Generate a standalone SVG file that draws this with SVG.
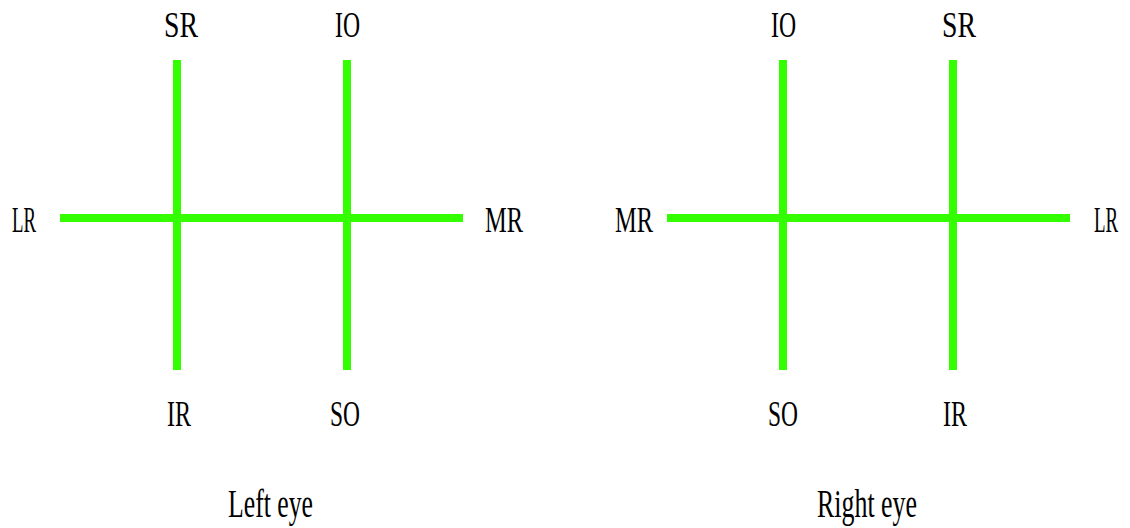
<svg xmlns="http://www.w3.org/2000/svg" width="1130" height="528" viewBox="0 0 1130 528">
<style>
.ln{stroke:#33ff00;stroke-width:8;fill:none}
text{font-family:"Liberation Serif","DejaVu Serif",serif;font-size:35px;fill:#000}
.t{font-size:39px}
</style>
<rect width="1130" height="528" fill="#fff"/>
<g id="connectors">
<line class="ln" x1="60" y1="218" x2="463" y2="218"/>
<line class="ln" x1="177" y1="60" x2="177" y2="370"/>
<line class="ln" x1="347" y1="60" x2="347" y2="370"/>
<line class="ln" x1="667" y1="218" x2="1070" y2="218"/>
<line class="ln" x1="783" y1="60" x2="783" y2="370"/>
<line class="ln" x1="953" y1="60" x2="953" y2="370"/>
</g>
<g id="left-eye">
<text x="164" y="37" textLength="34" lengthAdjust="spacingAndGlyphs">SR</text>
<text x="335" y="37" textLength="25" lengthAdjust="spacingAndGlyphs">IO</text>
<text x="12" y="232" textLength="24" lengthAdjust="spacingAndGlyphs">LR</text>
<text x="485" y="232" textLength="38" lengthAdjust="spacingAndGlyphs">MR</text>
<text x="167" y="426" textLength="24" lengthAdjust="spacingAndGlyphs">IR</text>
<text x="330" y="426" textLength="30" lengthAdjust="spacingAndGlyphs">SO</text>
<text class="t" x="228" y="517" textLength="85" lengthAdjust="spacingAndGlyphs">Left eye</text>
</g>
<g id="right-eye">
<text x="771" y="37" textLength="25" lengthAdjust="spacingAndGlyphs">IO</text>
<text x="942" y="37" textLength="34" lengthAdjust="spacingAndGlyphs">SR</text>
<text x="615" y="232" textLength="38" lengthAdjust="spacingAndGlyphs">MR</text>
<text transform="translate(1094,232) scale(0.54,1)">LR</text>
<text x="768" y="426" textLength="30" lengthAdjust="spacingAndGlyphs">SO</text>
<text x="943" y="426" textLength="24" lengthAdjust="spacingAndGlyphs">IR</text>
<text class="t" x="817" y="517" textLength="100" lengthAdjust="spacingAndGlyphs">Right eye</text>
</g>
</svg>
